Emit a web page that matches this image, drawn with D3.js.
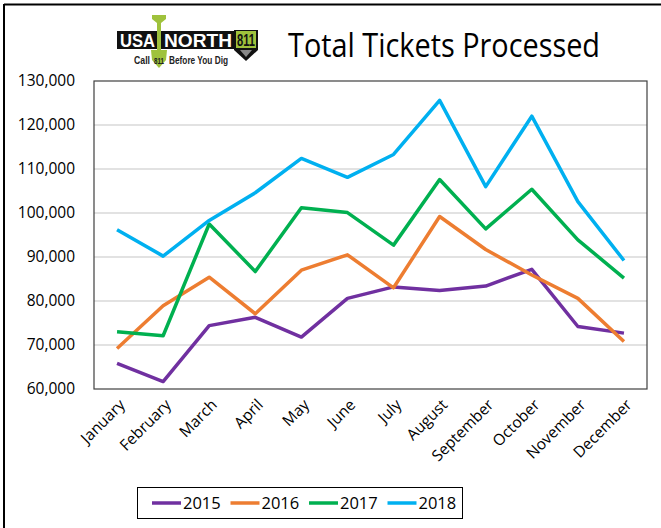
<!DOCTYPE html>
<html>
<head>
<meta charset="utf-8">
<script src="https://cdnjs.cloudflare.com/ajax/libs/d3/7.8.5/d3.min.js"></script>
<style>
  body { margin: 0; background: #fff; }
  svg { display: block; font-family: "Open Sans", "Noto Sans", sans-serif; }
</style>
</head>
<body>
<div id="chart"></div>
<script>
const months = ["January", "February", "March", "April", "May", "June", "July",
    "August", "September", "October", "November", "December"];
const years = ["2015", "2016", "2017", "2018"];
const colors = ["#7030a0", "#ed7d31", "#00b050", "#00b0f0"];

const tickets2015 = [65800, 61700, 74400, 76300, 71800, 80600, 83200, 82400, 83400, 87200, 74200, 72700];
const tickets2016 = [69200, 78900, 85400, 77100, 87000, 90500, 83000, 99200, 91700, 85900, 80600, 70800];
const tickets2017 = [73000, 72100, 97500, 86700, 101200, 100100, 92700, 107600, 96400, 105400, 93900, 85200];
const tickets2018 = [96200, 90200, 98300, 104600, 112400, 108100, 113300, 125600, 106000, 122000, 102600, 89200];

const yTicks = [60000, 70000, 80000, 90000, 100000, 110000, 120000, 130000];

const series = [tickets2015, tickets2016, tickets2017, tickets2018];

const width = 661, height = 528;
const margin = { top: 81, right: 14, bottom: 139, left: 94 };

const svg = d3.select("#chart").append("svg")
    .attr("width", width)
    .attr("height", height);

// outer frame (top + left only are visible)
svg.append("line").attr("x1", 4).attr("x2", width).attr("y1", 4.5).attr("y2", 4.5)
    .attr("stroke", "#000").attr("stroke-width", 2);
svg.append("line").attr("x1", 4).attr("x2", 4).attr("y1", 4).attr("y2", height)
    .attr("stroke", "#000").attr("stroke-width", 2);

const x = d3.scalePoint()
    .domain(months)
    .range([margin.left, width - margin.right])
    .padding(0.5);

const y = d3.scaleLinear()
    .domain([60000, 130000])
    .range([height - margin.bottom, margin.top]);

// gridlines
svg.append("g")
    .selectAll("line")
    .data(yTicks.slice(1, -1))
    .join("line")
    .attr("x1", margin.left)
    .attr("x2", width - margin.right)
    .attr("y1", d => y(d))
    .attr("y2", d => y(d))
    .attr("stroke", "#d9d9d9")
    .attr("stroke-width", 1.5);

// plot frame
svg.append("rect")
    .attr("x", margin.left)
    .attr("y", margin.top)
    .attr("width", width - margin.left - margin.right)
    .attr("height", height - margin.top - margin.bottom)
    .attr("fill", "none")
    .attr("stroke", "#404040")
    .attr("stroke-width", 1.2);

// y axis
const yAxis = d3.axisLeft(y)
    .tickValues(yTicks)
    .tickFormat(d3.format(","))
    .tickSize(0)
    .tickPadding(19);

svg.append("g")
    .attr("transform", `translate(${margin.left},0)`)
    .call(yAxis)
    .call(g => g.select(".domain").remove())
    .selectAll("text")
    .attr("font-size", 15.5)
    .attr("font-family", "Open Sans")
    .attr("fill", "#000");

// x axis labels, rotated
svg.append("g")
    .selectAll("text")
    .data(months)
    .join("text")
    .attr("transform", d => `translate(${x(d) + 5},${height - margin.bottom + 13}) rotate(-45)`)
    .attr("text-anchor", "end")
    .attr("dy", "0.35em")
    .attr("font-size", 15.5)
    .attr("fill", "#000")
    .text(d => d);

// lines
const line = d3.line()
    .x((d, i) => x(months[i]))
    .y(d => y(d));

svg.append("g")
    .selectAll("path")
    .data(series)
    .join("path")
    .attr("d", line)
    .attr("fill", "none")
    .attr("stroke", (d, i) => colors[i])
    .attr("stroke-width", 3.5)
    .attr("stroke-linejoin", "round");

// legend
const legend = svg.append("g");
legend.append("rect")
    .attr("x", 137.5).attr("y", 487.5)
    .attr("width", 325).attr("height", 31)
    .attr("fill", "#fff").attr("stroke", "#000").attr("stroke-width", 1);

const items = legend.selectAll("g")
    .data(years)
    .join("g")
    .attr("transform", (d, i) => `translate(${152 + i * 78.5},503)`);
items.append("line")
    .attr("x1", 0).attr("x2", 29)
    .attr("stroke", (d, i) => colors[i])
    .attr("stroke-width", 3.5);
items.append("text")
    .attr("x", 31)
    .attr("dy", "0.36em")
    .attr("font-size", 16.5)
    .attr("fill", "#000")
    .text(d => d);

// title
svg.append("text")
    .attr("x", 288)
    .attr("y", 57)
    .attr("font-size", 33)
    .attr("fill", "#000")
    .attr("textLength", 312)
    .attr("lengthAdjust", "spacingAndGlyphs")
    .text("Total Tickets Processed");

// USA North 811 logo
const logo = svg.append("g");
const logoFont = "Liberation Sans Narrow, Liberation Sans";
// shovel handle
logo.append("path")
    .attr("d", "M152,15 L166,15 L166,19 L161,23 L161,56 L157,56 L157,23 L152,19 Z")
    .attr("fill", "#9fc23c");
logo.append("rect").attr("x", 117).attr("y", 31).attr("width", 121).attr("height", 18).attr("fill", "#111");
logo.append("rect").attr("x", 157).attr("y", 31).attr("width", 4).attr("height", 18).attr("fill", "#9fc23c");
logo.append("text").attr("x", 120).attr("y", 47).attr("font-family", logoFont)
    .attr("font-weight", "bold").attr("font-size", 18).attr("fill", "#fff")
    .attr("textLength", 35).attr("lengthAdjust", "spacingAndGlyphs").text("USA");
logo.append("text").attr("x", 164).attr("y", 47).attr("font-family", logoFont)
    .attr("font-weight", "bold").attr("font-size", 18).attr("fill", "#fff")
    .attr("textLength", 68).attr("lengthAdjust", "spacingAndGlyphs").text("NORTH");
// 811 badge
logo.append("path")
    .attr("d", "M234,30 L258,30 L258,50 L246,61 L234,50 Z")
    .attr("fill", "#111");
logo.append("rect").attr("x", 236).attr("y", 31).attr("width", 20).attr("height", 17).attr("fill", "#9fc23c");
logo.append("path").attr("d", "M240,50 L252,50 L246,57 Z").attr("fill", "#888");
logo.append("text").attr("x", 246).attr("y", 46).attr("text-anchor", "middle")
    .attr("font-family", logoFont)
    .attr("font-weight", "bold").attr("font-size", 16).attr("fill", "#111")
    .attr("textLength", 18).attr("lengthAdjust", "spacingAndGlyphs").text("811");
// shovel blade
logo.append("path")
    .attr("d", "M151,50 L167,50 L166,60 L159,68 L152,60 Z")
    .attr("fill", "#9fc23c");
logo.append("text").attr("x", 134).attr("y", 64)
    .attr("font-family", logoFont)
    .attr("font-weight", "bold").attr("font-size", 10).attr("fill", "#222")
    .attr("textLength", 16).attr("lengthAdjust", "spacingAndGlyphs").text("Call");
logo.append("text").attr("x", 159).attr("y", 64).attr("text-anchor", "middle")
    .attr("font-family", logoFont)
    .attr("font-weight", "bold").attr("font-size", 9).attr("fill", "#222")
    .attr("textLength", 10).attr("lengthAdjust", "spacingAndGlyphs").text("811");
logo.append("text").attr("x", 169).attr("y", 64)
    .attr("font-family", logoFont)
    .attr("font-weight", "bold").attr("font-size", 10).attr("fill", "#222")
    .attr("textLength", 59).attr("lengthAdjust", "spacingAndGlyphs").text("Before You Dig");
</script>
</body>
</html>
